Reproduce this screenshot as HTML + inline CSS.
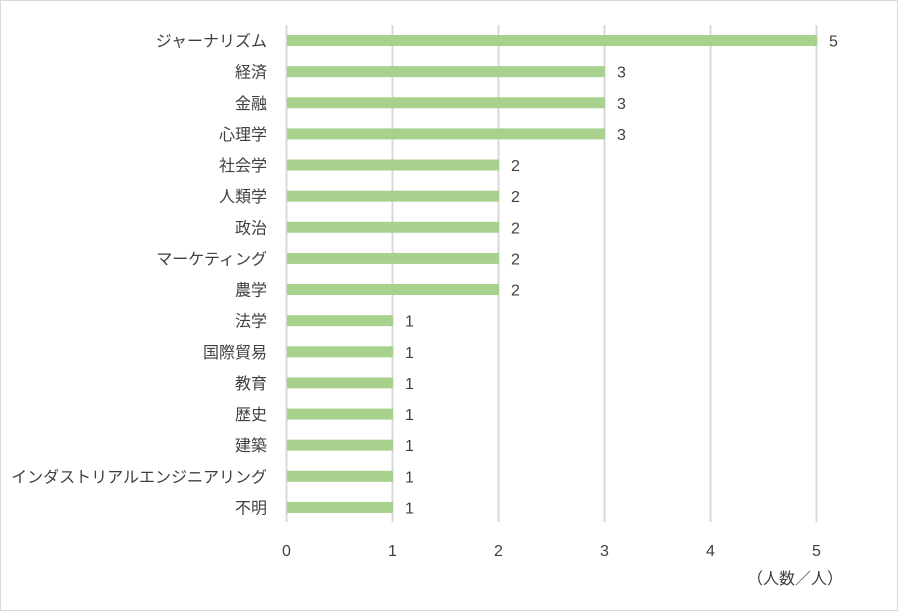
<!DOCTYPE html>
<html><head><meta charset="utf-8"><style>
body{margin:0;background:#fff}
#c{position:absolute;left:0;top:0;width:899px;height:612px}
text{font-family:"Liberation Sans","Noto Sans CJK JP",sans-serif;fill:#404040;font-size:16px}
</style></head><body>
<svg id="c" width="899" height="612">
<rect x="0.5" y="0.5" width="897" height="610" fill="#fff" stroke="#d9d9d9"/>
<g id="grid"></g><g id="bars"></g><g id="labels"></g>
<text x="795" y="584" text-anchor="middle">（人数／人）</text>
</svg>
<script>
const categories=["ジャーナリズム","経済","金融","心理学","社会学","人類学","政治","マーケティング","農学","法学","国際貿易","教育","歴史","建築","インダストリアルエンジニアリング","不明"];
const values=[5,3,3,3,2,2,2,2,2,1,1,1,1,1,1,1];
const ticks=[0,1,2,3,4,5];
const NS="http://www.w3.org/2000/svg";
const x0=287,pxPer=106,yTop=40.5,step=31.13,bh=11;
const xs=v=>x0+v*pxPer, ys=i=>yTop+i*step;
function mk(t,a,p){const e=document.createElementNS(NS,t);for(const k in a)e.setAttribute(k,a[k]);p.appendChild(e);return e;}
const g=document.getElementById('grid'),b=document.getElementById('bars'),l=document.getElementById('labels');
ticks.forEach(t=>{
 const ln=mk('line',{x1:xs(t)-0.5,x2:xs(t)-0.5,y1:25,y2:522,stroke:'#d9d9d9','stroke-width':2},g);
 
 
 const tx=mk('text',{x:xs(t)-0.5,y:556,'text-anchor':'middle'},g);tx.textContent=t;
 
 
});
categories.forEach((c,i)=>{
 const r=mk('rect',{x:x0,y:ys(i)-bh/2,width:xs(values[i])-x0,height:bh,fill:'#a9d18e'},b);
 
 
 const ct=mk('text',{x:267,y:ys(i)+6,'text-anchor':'end'},l);ct.textContent=c;
 
 
 const vt=mk('text',{x:xs(values[i])+12,y:ys(i)+6},l);vt.textContent=values[i];
 
 
});
</script></body></html>
